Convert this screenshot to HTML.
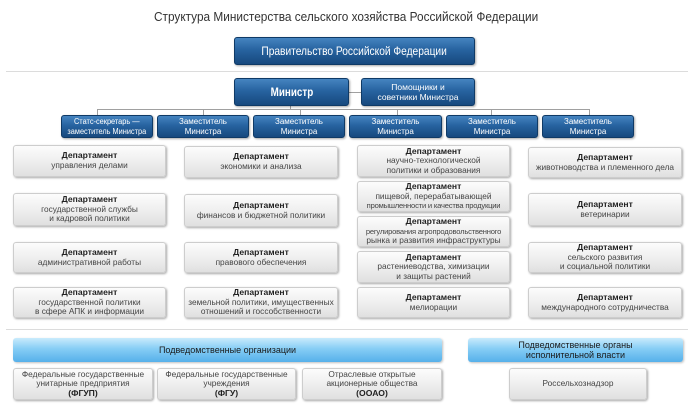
<!DOCTYPE html>
<html><head><meta charset="utf-8">
<style>
html,body{margin:0;padding:0;background:#fff;}
body{width:692px;height:416px;position:relative;overflow:hidden;font-family:"Liberation Sans","DejaVu Sans",sans-serif;}
.a{position:absolute;box-sizing:border-box;}
.t{display:flex;align-items:center;justify-content:center;text-align:center;}
.sx{display:inline-block;white-space:nowrap;}
.blue{background:linear-gradient(#4584c0 0%,#2763a0 45%,#17497e 100%);border:1px solid #0f3a66;border-radius:3px;color:#fff;box-shadow:1px 1px 2px rgba(0,0,0,.35);}
.grey{background:linear-gradient(#fcfcfc 0%,#efefef 50%,#e0e0e0 100%);border:1px solid #cdcdcd;border-radius:3px;color:#444;box-shadow:1px 1px 2px rgba(0,0,0,.35);font-size:8.3px;line-height:9.6px;}
.grey b{font-size:8.6px;color:#222;}
.lb{background:linear-gradient(#c9ebfc 0%,#86cdf5 45%,#56b0ea 100%);border-radius:3px;color:#1a1a1a;box-shadow:1px 1px 2px rgba(0,0,0,.25);font-size:9px;line-height:10px;}
.dep{font-size:8px;line-height:9.5px;white-space:nowrap;}
.hl{position:absolute;height:1px;background:#a0a0a0;}
.vl{position:absolute;width:1px;background:#a0a0a0;}
.sep{position:absolute;height:1px;background:#dcdcdc;}
</style></head><body>

<div class="a t" style="left:0;top:7px;width:692px;height:18px;font-size:13px;color:#333;"><span class="sx" style="transform:scaleX(.91);">Структура Министерства сельского хозяйства Российской Федерации</span></div>

<div class="a t blue" style="left:234px;top:37px;width:241px;height:28px;font-size:12px;"><span class="sx" style="transform:scaleX(.85);">Правительство Российской Федерации</span></div>

<div class="sep" style="left:6px;top:71px;width:682px;"></div>

<!-- connectors -->
<div class="hl" style="left:349px;top:92px;width:12px;"></div>
<div class="vl" style="left:290px;top:106px;height:4px;"></div>
<div class="hl" style="left:97px;top:109px;width:492px;"></div>
<div class="vl" style="left:97px;top:109px;height:6px;"></div>
<div class="vl" style="left:203px;top:109px;height:6px;"></div>
<div class="vl" style="left:300px;top:109px;height:6px;"></div>
<div class="vl" style="left:397px;top:109px;height:6px;"></div>
<div class="vl" style="left:491px;top:109px;height:6px;"></div>
<div class="vl" style="left:589px;top:109px;height:6px;"></div>

<div class="a t blue" style="left:234px;top:78px;width:115px;height:28px;font-size:12px;font-weight:bold;"><span class="sx" style="transform:scaleX(.82);">Министр</span></div>
<div class="a t blue" style="left:361px;top:78px;width:114px;height:28px;font-size:8.5px;line-height:10px;">Помощники и<br>советники Министра</div>

<div class="a t blue dep" style="left:61px;top:115px;width:92px;height:23px;"><span class="sx" style="transform:scaleX(.92);">Статс-секретарь —<br>заместитель Министра</span></div>
<div class="a t blue dep" style="left:157px;top:115px;width:92px;height:23px;">Заместитель<br>Министра</div>
<div class="a t blue dep" style="left:253px;top:115px;width:92px;height:23px;">Заместитель<br>Министра</div>
<div class="a t blue dep" style="left:349px;top:115px;width:93px;height:23px;">Заместитель<br>Министра</div>
<div class="a t blue dep" style="left:446px;top:115px;width:92px;height:23px;">Заместитель<br>Министра</div>
<div class="a t blue dep" style="left:542px;top:115px;width:92px;height:23px;">Заместитель<br>Министра</div>

<!-- column 1 -->
<div class="a t grey" style="left:13px;top:145px;width:153px;height:32px;"><div><b>Департамент</b><br>управления делами</div></div>
<div class="a t grey" style="left:13px;top:193px;width:153px;height:33px;"><div><b>Департамент</b><br>государственной службы<br>и кадровой политики</div></div>
<div class="a t grey" style="left:13px;top:242px;width:153px;height:31px;"><div><b>Департамент</b><br>административной работы</div></div>
<div class="a t grey" style="left:13px;top:287px;width:153px;height:31px;"><div><b>Департамент</b><br>государственной политики<br>в сфере АПК и информации</div></div>

<!-- column 2 -->
<div class="a t grey" style="left:184px;top:146px;width:154px;height:32px;"><div><b>Департамент</b><br>экономики и анализа</div></div>
<div class="a t grey" style="left:184px;top:194px;width:154px;height:33px;"><div><b>Департамент</b><br>финансов и бюджетной политики</div></div>
<div class="a t grey" style="left:184px;top:242px;width:154px;height:31px;"><div><b>Департамент</b><br>правового обеспечения</div></div>
<div class="a t grey" style="left:184px;top:287px;width:154px;height:31px;"><div><b>Департамент</b><br>земельной политики, имущественных<br>отношений и госсобственности</div></div>

<!-- column 3 -->
<div class="a t grey" style="left:357px;top:145px;width:153px;height:32px;"><div><b>Департамент</b><br>научно-технологической<br>политики и образования</div></div>
<div class="a t grey" style="left:357px;top:181px;width:153px;height:31px;"><div><b>Департамент</b><br>пищевой, перерабатывающей<br><span style="font-size:7.6px;letter-spacing:-0.2px;">промышленности и качества продукции</span></div></div>
<div class="a t grey" style="left:357px;top:216px;width:153px;height:31px;"><div><b>Департамент</b><br><span style="font-size:7.6px;letter-spacing:-0.2px;">регулирования агропродовольственного</span><br>рынка и развития инфраструктуры</div></div>
<div class="a t grey" style="left:357px;top:251px;width:153px;height:32px;"><div><b>Департамент</b><br>растениеводства, химизации<br>и защиты растений</div></div>
<div class="a t grey" style="left:357px;top:287px;width:153px;height:31px;"><div><b>Департамент</b><br>мелиорации</div></div>

<!-- column 4 -->
<div class="a t grey" style="left:528px;top:147px;width:154px;height:31px;"><div><b>Департамент</b><br>животноводства и племенного дела</div></div>
<div class="a t grey" style="left:528px;top:193px;width:154px;height:33px;"><div><b>Департамент</b><br>ветеринарии</div></div>
<div class="a t grey" style="left:528px;top:242px;width:154px;height:31px;"><div><b>Департамент</b><br>сельского развития<br>и социальной политики</div></div>
<div class="a t grey" style="left:528px;top:287px;width:154px;height:31px;"><div><b>Департамент</b><br>международного сотрудничества</div></div>

<div class="sep" style="left:6px;top:329px;width:682px;"></div>

<div class="a t lb" style="left:13px;top:338px;width:429px;height:24px;">Подведомственные организации</div>
<div class="a t lb" style="left:468px;top:338px;width:215px;height:24px;">Подведомственные органы<br>исполнительной власти</div>

<div class="a t grey" style="left:13px;top:368px;width:140px;height:32px;"><div>Федеральные государственные<br>унитарные предприятия<br><b>(ФГУП)</b></div></div>
<div class="a t grey" style="left:157px;top:368px;width:139px;height:32px;"><div>Федеральные государственные<br>учреждения<br><b>(ФГУ)</b></div></div>
<div class="a t grey" style="left:302px;top:368px;width:140px;height:32px;"><div>Отраслевые открытые<br>акционерные общества<br><b>(ООАО)</b></div></div>
<div class="a t grey" style="left:509px;top:368px;width:138px;height:32px;"><div>Россельхознадзор</div></div>

</body></html>
